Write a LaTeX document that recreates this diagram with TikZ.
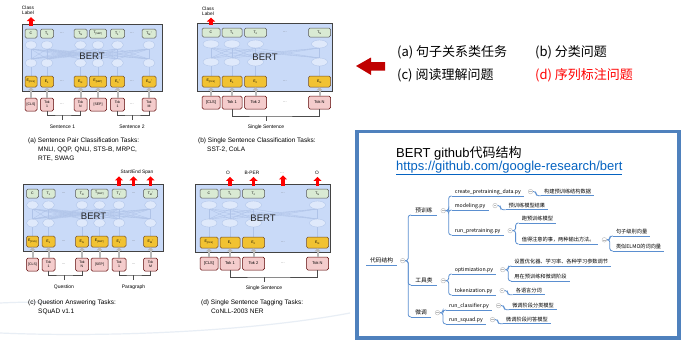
\documentclass[tikz,border=0pt]{standalone}
\usepackage{fontspec}
\setmainfont{Liberation Sans}
\newfontfamily\cjk{Noto Sans CJK SC}
\usetikzlibrary{arrows.meta,positioning}
\definecolor{bertblue}{HTML}{C9DAF8}
\definecolor{bertline}{HTML}{434343}
\definecolor{outgreen}{HTML}{D9EAD3}
\definecolor{embgold}{HTML}{F1C232}
\definecolor{tokpink}{HTML}{F4CCCC}
\definecolor{ghostblue}{HTML}{AFC3E8}
\definecolor{frameblue}{HTML}{4F81BD}
\definecolor{mmblue}{HTML}{5B8FD0}
\definecolor{darkred}{HTML}{C00000}
\definecolor{linkblue}{HTML}{0563C1}
\definecolor{swoosh}{HTML}{E8EEF5}
% token columns: index/x/width/output/embedding/input
\newcommand{\pairtoks}{%
1/31/12/C/E\textsubscript{[CLS]}/[CLS],%
2/47/13/T\textsubscript{1}/E\textsubscript{1}/Tok\\1,%
3/80.5/13/T\textsubscript{N}/E\textsubscript{N}/Tok\\N,%
4/98/17/T\textsubscript{[SEP]}/E\textsubscript{[SEP]}/[SEP],%
5/117.5/14/T\textsubscript{1}’/E\textsubscript{1}’/Tok\\1,%
6/149/14/T\textsubscript{M}’/E\textsubscript{M}’/Tok\\M}
\newcommand{\singletoks}{%
1/211/18/C/E\textsubscript{[CLS]}/[CLS],%
2/232/20/T\textsubscript{1}/E\textsubscript{1}/Tok 1,%
3/255.5/22/T\textsubscript{2}/E\textsubscript{2}/Tok 2,%
4/319.5/22/T\textsubscript{N}/E\textsubscript{N}/Tok N}

\begin{document}
\begin{tikzpicture}[x=1pt,y=-1pt,
  bertbox/.style={draw=bertline,fill=bertblue,line width=0.9pt,inner sep=0},
  ghost/.style={draw=ghostblue,line width=0.35pt},
  ghostnode/.style={ghost,fill=bertblue!60!white},
  tokbase/.style={rounded corners=1.5pt,line width=0.5pt,inner sep=0,align=center,font={\fontsize{3.5}{3.8}\selectfont}},
  outbox/.style={tokbase,draw=gray!70!black,fill=outgreen,minimum height=9},
  embbox/.style={tokbase,draw=brown!60!black,fill=embgold,minimum height=11},
  tokbox/.style={tokbase,draw=red!35!black,fill=tokpink,minimum height=13},
  dotlbl/.style={font={\fontsize{4}{4}\selectfont},text=gray!70!black,inner sep=0},
  uparrow/.style={line width=2pt,draw=gray!55,-{Triangle[width=5.5pt,length=3pt]}},
  redarr/.style={line width=3.6pt,draw=red,-{Triangle[width=8pt,length=4pt]},shorten >=1.5pt,shorten <=-2pt},
  bertlbl/.style={font={\fontsize{9.5}{10}\selectfont},text=black!85,inner sep=0},
  toplbl/.style={font={\fontsize{4.8}{5.2}\selectfont},align=center,inner sep=0.5pt},
  senlbl/.style={font={\fontsize{5}{6}\selectfont},inner sep=0.5pt},
  brk/.style={draw=gray!60!black,line width=0.6pt},
  caption/.style={anchor=north west,align=left,inner sep=0,font={\fontsize{6.5}{8.8}\selectfont}},
  task/.style={anchor=west,inner sep=0,font={\cjk\fontsize{13}{15}\selectfont}},
  framebox/.style={draw=frameblue,line width=3.5pt,fill=white,inner sep=0},
  mmline/.style={draw=mmblue,line width=0.8pt},
  mm/.style={anchor=south west,inner xsep=3pt,inner ysep=1.5pt,font={\cjk\fontsize{5.2}{5.4}\selectfont}},
  mmbig/.style={mm,inner xsep=4pt,font={\cjk\fontsize{5.7}{6}\selectfont}},
  mmdot/.style={circle,draw=gray!55,line width=0.4pt,minimum size=4.6pt,inner sep=0,fill=white,
    path picture={\draw[gray!55,line width=0.4pt] ([xshift=-1.3pt]path picture bounding box.center) -- ([xshift=1.3pt]path picture bounding box.center);}}
]
\path[fill=white,use as bounding box] (0,0) rectangle (691,351);
\draw[swoosh,line width=1.2pt] (0,333) .. controls (120,338) and (260,330) .. (350,313);
\draw[swoosh,line width=1.2pt] (0,303) .. controls (20,302) and (40,302) .. (55,302);

% sentence pair panels (a) and (c)
\foreach \p/\dx/\dy/\sena/\senb in {a/0/0/Sentence 1/Sentence 2,c/1.5/160/Question/Paragraph}{
\begin{scope}[shift={(\dx,\dy)}]
  \node[bertbox,minimum width=140,minimum height=67] (\p-bert) at (92,57.5) {};
  \foreach \u in {31,47,80.5,98,117.5,149}{
    \foreach \v in {31,47,80.5,98,117.5,149} \draw[ghost] (\u,49) -- (\v,59);
    \draw[ghostnode] (\u,45) ellipse (6 and 4);
    \draw[ghostnode] (\u,63) ellipse (6 and 4);
    \draw[ghost] (\u,67) -- (\u,76);
  }
  \foreach \i/\colx/\colw/\ttop/\temb/\ttok in \pairtoks{
    \node[outbox,minimum width=\colw] (\p-top\i) at (\colx,33.5) {\ttop};
    \node[embbox,minimum width=\colw] (\p-emb\i) at (\colx,81.5) {\temb};
    \node[tokbox,minimum width=\colw] (\p-tok\i) at (\colx,104.5) {\ttok};
    \draw[uparrow] (\p-tok\i) -- (\p-emb\i);
  }
  \foreach \j/\colx in {1/62,2/132}{
    \node[dotlbl] (\p-td\j) at (\colx,33.5) {...};
    \node[dotlbl] (\p-ed\j) at (\colx,81.5) {...};
    \node[dotlbl] (\p-kd\j) at (\colx,104.5) {...};
  }
  \node[bertlbl] (\p-lbl) at (92,56) {BERT};
  \node[senlbl] (\p-s1) at (62.5,127) {\sena};
  \node[senlbl] (\p-s2) at (132,127) {\senb};
  \draw[brk] (\p-tok2.south) |- (\p-s1.north |- 0,115) -| (\p-tok3.south);
  \draw[brk] (\p-s1.north |- 0,115) -- ++(0,5);
  \draw[brk] (\p-tok5.south) |- (\p-s2.north |- 0,115) -| (\p-tok6.south);
  \draw[brk] (\p-s2.north |- 0,115) -- ++(0,5);
\end{scope}}

% single sentence panels (b) and (d)
\foreach \p/\dx/\dy in {b/0/0,d/-2/161}{
\begin{scope}[shift={(\dx,\dy)}]
  \node[bertbox,minimum width=135,minimum height=68] (\p-bert) at (264.5,57) {};
  \foreach \u in {211,232,255.5,319.5}{
    \foreach \v in {211,232,255.5,319.5} \draw[ghost] (\u,48) -- (\v,58);
    \draw[ghostnode] (\u,44) ellipse (8 and 4);
    \draw[ghostnode] (\u,62) ellipse (8 and 4);
    \draw[ghost] (\u,66) -- (\u,76);
  }
  \foreach \i/\colx/\colw/\ttop/\temb/\ttok in \singletoks{
    \node[outbox,minimum width=\colw] (\p-top\i) at (\colx,32.5) {\ttop};
    \node[embbox,minimum width=\colw] (\p-emb\i) at (\colx,81.5) {\temb};
    \node[tokbox,minimum width=\colw,font={\fontsize{4}{4.4}\selectfont}] (\p-tok\i) at (\colx,102.5) {\ttok};
    \draw[uparrow] (\p-tok\i) -- (\p-emb\i);
  }
  \node[dotlbl] (\p-td1) at (285,32.5) {...};
  \node[dotlbl] (\p-ed1) at (285,81.5) {...};
  \node[dotlbl] (\p-kd1) at (285,102.5) {...};
  \node[bertlbl] (\p-lbl) at (265,57) {BERT};
  \node[senlbl] (\p-s1) at (266,127) {Single Sentence};
  \draw[brk] (\p-tok2.south) |- (\p-s1.north |- 0,116) -| (\p-tok4.south);
  \draw[brk] (\p-s1.north |- 0,116) -- ++(0,5);
\end{scope}}

% output labels
\node[toplbl] (a-cls) at (28,10.5) {Class\\Label};
\draw[redarr] (a-top1.north |- a-bert.north) -- (a-top1.north |- a-cls.south);
\node[toplbl] (b-cls) at (208,11) {Class\\Label};
\draw[redarr] (b-top1.north |- b-bert.north) -- (b-top1.north |- b-cls.south);
\node[toplbl] (c-span) at (137,172) {Start/End Span};
\draw[redarr] (c-top5.north |- c-bert.north) -- (c-top5.north |- c-span.south);
\draw[redarr] (c-td2.north |- c-bert.north) -- (c-td2.north |- c-span.south);
\draw[redarr] (c-top6.north |- c-bert.north) -- (c-top6.north |- c-span.south);
\node[toplbl] (d-o1) at (228,173) {O};
\node[toplbl] (d-bper) at (252,173) {B-PER};
\node[toplbl,text=gray] (d-more) at (282,173) {...};
\node[toplbl] (d-o2) at (317,173) {O};
\draw[redarr] (d-top2.north |- d-bert.north) -- (d-top2.north |- d-o1.south);
\draw[redarr] (d-top3.north |- d-bert.north) -- (d-top3.north |- d-bper.south);
\draw[redarr] (d-td1.north |- d-bert.north) -- (d-td1.north |- d-more.south);
\draw[redarr] (d-top4.north |- d-bert.north) -- (d-top4.north |- d-o2.south);

% captions
\node[caption] (a-cap) at (28,137.5) {(a) Sentence Pair Classification Tasks:\\\hspace*{10pt}MNLI, QQP, QNLI, STS-B, MRPC,\\\hspace*{10pt}RTE, SWAG};
\node[caption] (b-cap) at (198,137.5) {(b) Single Sentence Classification Tasks:\\\hspace*{9pt}SST-2, CoLA};
\node[caption] (c-cap) at (28,299.5) {(c) Question Answering Tasks:\\\hspace*{10pt}SQuAD v1.1};
\node[caption] (d-cap) at (201,299.5) {(d) Single Sentence Tagging Tasks:\\\hspace*{10pt}CoNLL-2003 NER};

% task list
\fill[darkred] (356,66) -- (371,57.5) -- (371,62) -- (385,62) -- (385,70.5) -- (371,70.5) -- (371,75) -- cycle;
\node[task] (t-a) at (397,52) {(a) 句子关系类任务};
\node[task] (t-b) at (535,52) {(b) 分类问题};
\node[task] (t-c) at (397,75) {(c) 阅读理解问题};
\node[task,text=red] (t-d) at (535,75) {(d) 序列标注问题};

% code structure
\node[framebox,minimum width=322,minimum height=206.5] (frame) at (518,234.75) {};
\node[anchor=west,inner sep=0,font={\fontsize{13}{15}\selectfont}] (title) at (396,153) {BERT github{\cjk 代码结构}};
\node[anchor=west,inner sep=0,text=linkblue,font={\fontsize{13}{15}\selectfont}] (url) at (396,168) {\underline{https://github.com/google-research/bert}};

\node[mmbig] (mroot) at (366,265) {代码结构};
\node[mmdot,right=3pt of mroot] (mroot-d) {};
\node[mmbig,xshift=6pt] (m-pre) at (mroot-d.east |- 0,215) {预训练};
\node[mmbig,xshift=6pt] (m-tool) at (mroot-d.east |- 0,285) {工具类};
\node[mmbig,xshift=6pt] (m-fine) at (mroot-d.east |- 0,317) {微调};
\node[mmdot,right=4pt of m-pre] (m-pre-d) {};
\node[mmdot,right=4pt of m-tool] (m-tool-d) {};
\node[mmdot,right=4pt of m-fine] (m-fine-d) {};
\node[mm,xshift=6pt] (m-create) at (m-pre-d.east |- 0,196) {create\_pretraining\_data.py};
\node[mm,xshift=6pt] (m-model) at (m-pre-d.east |- 0,210) {modeling.py};
\node[mm,xshift=6pt] (m-runpre) at (m-pre-d.east |- 0,235) {run\_pretraining.py};
\node[mm,xshift=6pt] (m-opt) at (m-tool-d.east |- 0,274) {optimization.py};
\node[mm,xshift=6pt] (m-tok) at (m-tool-d.east |- 0,295) {tokenization.py};
\node[mm,xshift=6pt] (m-cls) at (m-fine-d.east |- 0,310) {run\_classifier.py};
\node[mm,xshift=6pt] (m-squad) at (m-fine-d.east |- 0,324) {run\_squad.py};
\foreach \n in {m-create,m-model,m-runpre,m-opt,m-tok,m-cls,m-squad}
  \node[mmdot,right=4pt of \n] (\n-d) {};
\node[mm,right=8pt of m-create-d] (l-create) {构建预训练结构数据};
\node[mm,right=8pt of m-model-d] (l-model) {预训练模型结果};
\node[mm,right=8pt of m-tok-d] (l-tok) {各语言分词};
\node[mm,right=8pt of m-cls-d] (l-cls) {微调阶段分类模型};
\node[mm,right=8pt of m-squad-d] (l-squad) {微调阶段问答模型};
\node[mm,xshift=6pt] (l-runpre) at (m-runpre-d.east |- 0,223) {跑预训练模型};
\node[mm,xshift=6pt] (m-note) at (m-runpre-d.east |- 0,244) {值得注意的事，两种输出方法。};
\node[mmdot,right=4pt of m-note] (m-note-d) {};
\node[mm,xshift=6pt] (l-sent) at (m-note-d.east |- 0,236) {句子级别向量};
\node[mm,xshift=6pt] (l-elmo) at (m-note-d.east |- 0,251) {类似ELMO的词向量};
\node[mm,xshift=6pt] (l-opt1) at (m-opt-d.east |- 0,266) {设置优化器、学习率、各种学习参数调节};
\node[mm,xshift=6pt] (l-opt2) at (m-opt-d.east |- 0,281) {用在预训练和微调阶段};
\foreach \n in {mroot,m-pre,m-tool,m-fine,m-create,m-model,m-runpre,m-opt,m-tok,m-cls,m-squad,
  l-create,l-model,l-tok,l-cls,l-squad,l-runpre,m-note,l-sent,l-elmo,l-opt1,l-opt2}
  \draw[mmline] (\n.south west) -- (\n.south east);
\foreach \a/\b in {mroot/m-pre,mroot/m-tool,mroot/m-fine,m-pre/m-create,m-pre/m-model,m-pre/m-runpre,
  m-tool/m-opt,m-tool/m-tok,m-fine/m-cls,m-fine/m-squad,m-create/l-create,m-model/l-model,
  m-tok/l-tok,m-cls/l-cls,m-squad/l-squad,m-runpre/l-runpre,m-runpre/m-note,m-note/l-sent,
  m-note/l-elmo,m-opt/l-opt1,m-opt/l-opt2}
  \draw[mmline,rounded corners=2.5pt] (\a-d.east) -- ++(3,0) |- (\b.south west);
\end{tikzpicture}
\end{document}
